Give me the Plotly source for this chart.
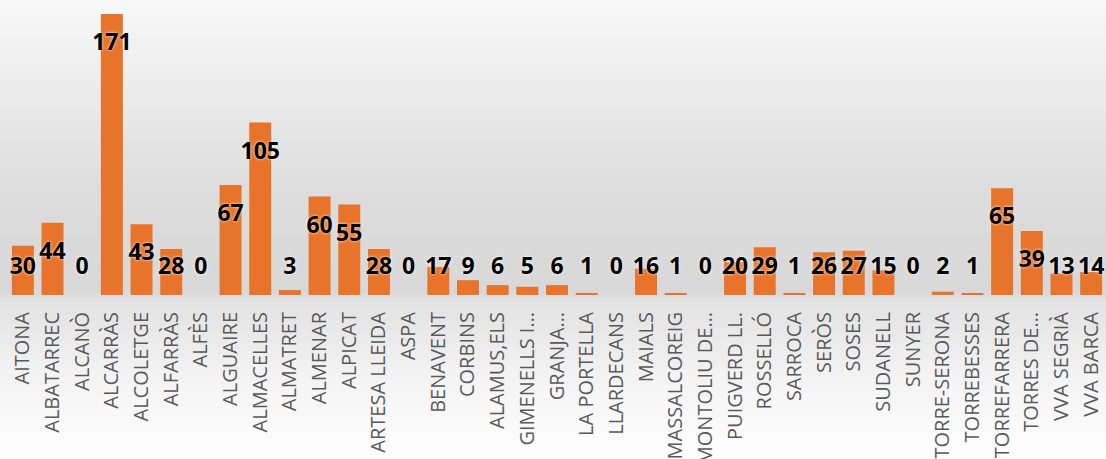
import plotly.graph_objects as go

# Data
municipis = ['AITONA', 'ALBATARREC', 'ALCANÒ', 'ALCARRÀS', 'ALCOLETGE', 'ALFARRÀS', 'ALFÈS',
             'ALGUAIRE', 'ALMACELLES', 'ALMATRET', 'ALMENAR', 'ALPICAT', 'ARTESA LLEIDA', 'ASPA',
             'BENAVENT', 'CORBINS', 'ALAMUS,ELS', 'GIMENELLS I…', 'GRANJA…', 'LA PORTELLA',
             'LLARDECANS', 'MAIALS', 'MASSALCOREIG', 'MONTOLIU DE…', 'PUIGVERD LL.', 'ROSSELLÓ',
             'SARROCA', 'SERÒS', 'SOSES', 'SUDANELL', 'SUNYER', 'TORRE-SERONA', 'TORREBESSES',
             'TORREFARRERA', 'TORRES DE…', 'VVA SEGRIÀ', 'VVA BARCA']
valors = [30, 44, 0, 171, 43, 28, 0,
          67, 105, 3, 60, 55, 28, 0,
          17, 9, 6, 5, 6, 1,
          0, 16, 1, 0, 20, 29,
          1, 26, 27, 15, 0, 2, 1,
          65, 39, 13, 14]

# label sits a little below the bar top, but never lower than a floor
label_y = [max(v - 18.5, 16.5) for v in valors]

W, H = 1106, 459
PLOT_H = 295

fig = go.Figure()
fig.add_trace(go.Bar(x=municipis, y=valors, marker=dict(color='#e8732a', line=dict(width=0)),
                     hoverinfo='x+y'))
fig.add_trace(go.Scatter(x=municipis, y=label_y, mode='text', text=[str(v) for v in valors],
                         textposition='middle center', cliponaxis=False,
                         textfont=dict(family='Open Sans', size=23, color='black', weight='bold',
                                       shadow='0px 0px 3px white'),
                         hoverinfo='skip'))

# background grey gradient (drawn as thin strips)
stops = [(0, 248), (100, 234), (200, 220), (292, 216), (300, 226), (380, 244), (459, 254)]
def grey_at(py):
    for (a, ca), (b, cb) in zip(stops, stops[1:]):
        if a <= py <= b:
            return ca + (cb - ca) * (py - a) / (b - a)
    return stops[-1][1]

shapes = []
step = 3
for py in range(0, H, step):
    g = int(round(grey_at(py + step / 2)))
    shapes.append(dict(type='rect', xref='paper', yref='paper', layer='below',
                       x0=-0.05, x1=1.05,
                       y0=1 - (py + step + 0.5) / PLOT_H, y1=1 - py / PLOT_H,
                       fillcolor=f'rgb({g},{g},{g})', line=dict(width=0)))

fig.update_layout(
    width=W, height=H,
    margin=dict(l=8, r=0, t=0, b=H - PLOT_H),
    paper_bgcolor='white', plot_bgcolor='rgba(0,0,0,0)',
    showlegend=False, bargap=0.26,
    shapes=shapes,
    xaxis=dict(tickangle=-90, showgrid=False, showline=False, ticks='',
               range=[-0.5, len(municipis) - 0.5],
               tickfont=dict(family='Open Sans', size=20, color='#595959'),
               ticklabelstandoff=12, automargin=False),
    yaxis=dict(range=[0, 171 * PLOT_H / 281], visible=False, showgrid=False),
)

fig.write_html('out.html', config={'displayModeBar': False},
               post_script="document.body.style.margin='0';")
